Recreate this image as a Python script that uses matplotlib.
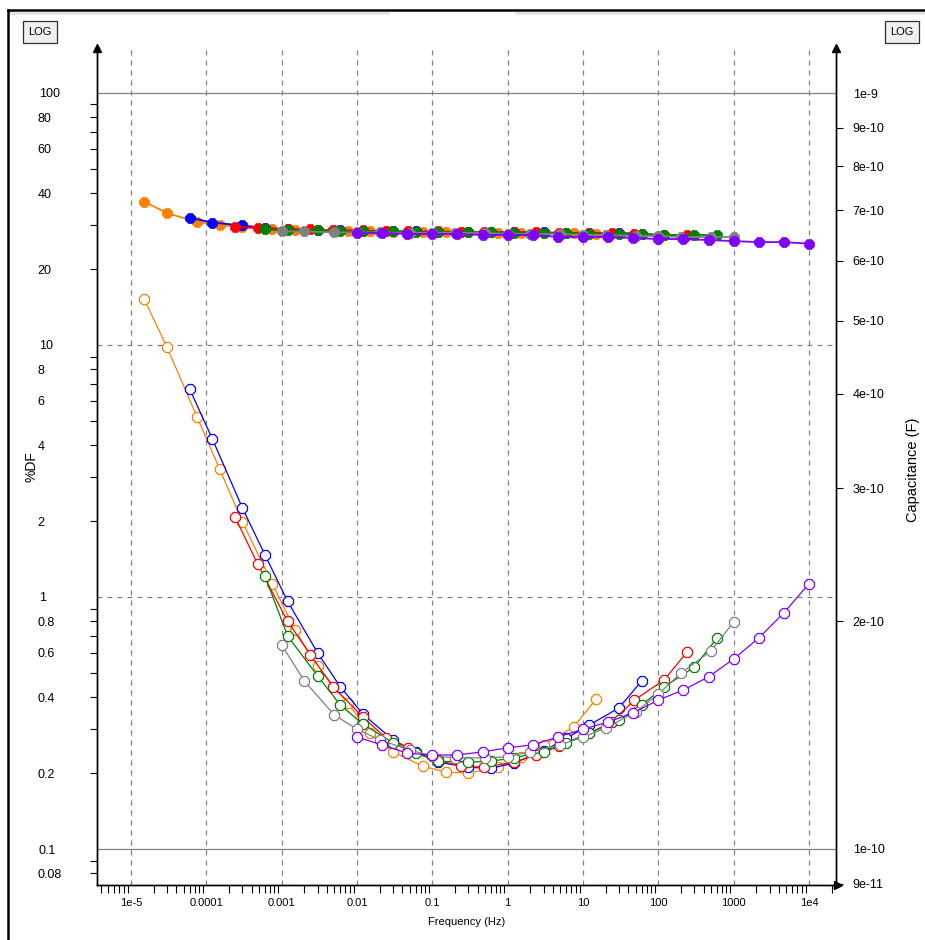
import matplotlib
matplotlib.use("Agg")
import matplotlib.pyplot as plt
from matplotlib.ticker import FixedLocator, FixedFormatter, NullFormatter
from matplotlib.patches import Rectangle
from matplotlib.lines import Line2D

plt.rcParams['font.family'] = ['Liberation Sans', 'DejaVu Sans']

# frequencies (Hz) per run
freq_orange = [1.5e-5, 3e-5, 7.5e-5, 1.5e-4, 3e-4, 7.5e-4, 1.5e-3, 3e-3, 7.5e-3, 0.015,
               0.03, 0.075, 0.15, 0.3, 0.75, 1.5, 3, 7.5, 15]
freq_blue = [6e-5, 1.2e-4, 3e-4, 6e-4, 1.2e-3, 3e-3, 6e-3, 0.012, 0.03, 0.06,
             0.12, 0.3, 0.6, 1.2, 3, 6, 12, 30, 60]
freq_red = [2.4e-4, 4.8e-4, 1.2e-3, 2.4e-3, 4.8e-3, 0.012, 0.024, 0.048, 0.12, 0.24,
            0.48, 1.2, 2.4, 4.8, 12, 24, 48, 120, 240]
freq_green = [6e-4, 1.2e-3, 3e-3, 6e-3, 0.012, 0.03, 0.06, 0.12, 0.3, 0.6,
              1.2, 3, 6, 12, 30, 60, 120, 300, 600]
freq_gray = [1e-3, 2e-3, 5e-3, 0.01, 0.02, 0.05, 0.1, 0.2, 0.5, 1,
             2, 5, 10, 20, 50, 100, 200, 500, 1000]
freq_purple = [0.01, 0.0215, 0.0464, 0.1, 0.215, 0.464, 1, 2.15, 4.64, 10,
               21.5, 46.4, 100, 215, 464, 1000, 2150, 4640, 10000]

# %DF
df_orange = [15.2, 9.8, 5.2, 3.22, 1.99, 1.13, 0.74, 0.53, 0.38, 0.288,
             0.243, 0.213, 0.202, 0.200, 0.211, 0.232, 0.259, 0.305, 0.394]
df_blue = [6.69, 4.24, 2.26, 1.47, 0.96, 0.60, 0.44, 0.343, 0.271, 0.243,
           0.221, 0.211, 0.209, 0.219, 0.245, 0.275, 0.310, 0.363, 0.464]
df_red = [2.08, 1.35, 0.80, 0.59, 0.44, 0.334, 0.276, 0.252, 0.225, 0.213,
          0.211, 0.221, 0.236, 0.256, 0.288, 0.319, 0.390, 0.469, 0.605]
df_green = [1.21, 0.70, 0.486, 0.373, 0.313, 0.264, 0.240, 0.223, 0.221, 0.223,
            0.230, 0.243, 0.264, 0.288, 0.325, 0.373, 0.44, 0.527, 0.687]
df_gray = [0.645, 0.464, 0.340, 0.299, 0.271, 0.247, 0.234, 0.230, 0.230, 0.232,
           0.243, 0.259, 0.278, 0.302, 0.350, 0.412, 0.499, 0.611, 0.796]
df_purple = [0.278, 0.259, 0.240, 0.236, 0.236, 0.243, 0.252, 0.259, 0.278, 0.299,
             0.319, 0.347, 0.390, 0.428, 0.482, 0.568, 0.687, 0.865, 1.13]

# capacitance in units of 1e-10 F
cap_orange = [7.18, 6.94, 6.75, 6.69, 6.65, 6.60, 6.58, 6.58, 6.56, 6.56,
              6.54, 6.54, 6.54, 6.54, 6.53, 6.53, 6.53, 6.53, 6.51]
cap_blue = [6.84, 6.74, 6.68, 6.63, 6.60, 6.58, 6.58, 6.56, 6.56, 6.56,
            6.54, 6.54, 6.54, 6.54, 6.54, 6.53, 6.53, 6.53, 6.51]
cap_red = [6.65, 6.63, 6.60, 6.60, 6.58, 6.58, 6.56, 6.56, 6.56, 6.54,
           6.54, 6.54, 6.54, 6.53, 6.53, 6.53, 6.51, 6.49, 6.49]
cap_green = [6.60, 6.58, 6.58, 6.56, 6.56, 6.56, 6.54, 6.54, 6.54, 6.54,
             6.53, 6.53, 6.53, 6.51, 6.51, 6.51, 6.49, 6.49, 6.49]
cap_gray = [6.56, 6.56, 6.54, 6.54, 6.54, 6.53, 6.53, 6.53, 6.53, 6.51,
            6.51, 6.51, 6.49, 6.49, 6.47, 6.47, 6.45, 6.45, 6.45]
cap_purple = [6.53, 6.53, 6.51, 6.51, 6.51, 6.49, 6.49, 6.49, 6.45, 6.45,
              6.45, 6.43, 6.41, 6.41, 6.39, 6.37, 6.35, 6.35, 6.32]
cap_unit = 1e-10

runs = [
    (freq_orange, df_orange, cap_orange, '#ff8000'),
    (freq_blue, df_blue, cap_blue, '#0000ff'),
    (freq_red, df_red, cap_red, '#ff0000'),
    (freq_green, df_green, cap_green, '#008000'),
    (freq_gray, df_gray, cap_gray, '#808080'),
    (freq_purple, df_purple, cap_purple, '#8000ff'),
]

x_major = [1e-5, 1e-4, 1e-3, 1e-2, 1e-1, 1, 10, 100, 1000, 1e4]
x_major_labels = ['1e-5', '0.0001', '0.001', '0.01', '0.1', '1', '10', '100', '1000', '1e4']
df_major = [0.1, 1, 10, 100]
df_major_labels = ['0.1', '1', '10', '100']
cap_major = [1e-10, 1e-9]
cap_major_labels = ['1e-10', '1e-9']
cap_minor = [9e-11, 2e-10, 3e-10, 4e-10, 5e-10, 6e-10, 7e-10, 8e-10, 9e-10]
cap_minor_labels = ['9e-11', '2e-10', '3e-10', '4e-10', '5e-10', '6e-10', '7e-10', '8e-10', '9e-10']

W, H = 925, 940
fig = plt.figure(figsize=(W / 100, H / 100), dpi=100)
ax = fig.add_axes([97 / W, 1 - 885 / H, (836 - 97) / W, (885 - 48) / H])
ax2 = ax.twinx()

ax.set_xscale('log')
ax.set_yscale('log')
ax2.set_yscale('log')
ax.set_xlim(3.535e-6, 2.28e4)
ax.set_ylim(0.07197, 150.8)
ax2.set_ylim(8.96e-11, 1.147e-9)

# grid
for xv in x_major:
    ax.axvline(xv, color='#808080', lw=0.9, ls=(0, (4, 4)), zorder=0)
for yv, style in zip(df_major, ['-', (0, (4, 4)), (0, (4, 4)), '-']):
    ax.axhline(yv, color='#808080', lw=0.9, ls=style, zorder=0)

for f, d, c, col in runs:
    ax.plot(f, d, color=col, lw=0.9, marker='8', ms=7.5, mfc='white', mec=col, mew=0.9)
    ax2.plot(f, [v * cap_unit for v in c], color=col, lw=1.3, marker='8', ms=8.5,
             mfc=col, mec=col, mew=0.5)

# x ticks
ax.xaxis.set_major_locator(FixedLocator(x_major))
ax.xaxis.set_major_formatter(FixedFormatter(x_major_labels))
x_minor = []
for dec in [1e-6, 1e-5, 1e-4, 1e-3, 1e-2, 1e-1, 1, 10, 100, 1000, 1e4]:
    for m in range(2, 10):
        v = m * dec
        if 3.6e-6 < v < 2.2e4:
            x_minor.append(v)
ax.xaxis.set_minor_locator(FixedLocator(x_minor))
ax.xaxis.set_minor_formatter(NullFormatter())
ax.tick_params(axis='x', which='major', length=0, pad=9, labelsize=8)
ax.tick_params(axis='x', which='minor', length=6, width=0.8, direction='out')

# left ticks
df_minor = []
df_minor_labels = []
for dec in [0.01, 0.1, 1, 10]:
    for m in range(2, 10):
        v = m * dec
        if 0.072 < v < 150:
            df_minor.append(v)
            df_minor_labels.append(('%g' % v) if m % 2 == 0 else '')
ax.yaxis.set_major_locator(FixedLocator(df_major))
ax.yaxis.set_major_formatter(FixedFormatter(df_major_labels))
ax.yaxis.set_minor_locator(FixedLocator(df_minor))
ax.yaxis.set_minor_formatter(FixedFormatter(df_minor_labels))
ax.tick_params(axis='y', which='major', length=0, pad=42, labelsize=9)
ax.tick_params(axis='y', which='minor', length=5, width=0.8, pad=38, labelsize=9)
for tl in ax.get_yticklabels(which='both'):
    tl.set_horizontalalignment('left')

# right ticks
ax2.yaxis.set_major_locator(FixedLocator(cap_major))
ax2.yaxis.set_major_formatter(FixedFormatter(cap_major_labels))
ax2.yaxis.set_minor_locator(FixedLocator(cap_minor))
ax2.yaxis.set_minor_formatter(FixedFormatter(cap_minor_labels))
ax2.tick_params(axis='y', which='major', length=0, pad=12, labelsize=9)
ax2.tick_params(axis='y', which='minor', length=5, width=0.8, pad=7, labelsize=9)

for a in (ax, ax2):
    a.spines['top'].set_visible(False)
    for s in ('left', 'right', 'bottom'):
        a.spines[s].set_linewidth(1.0)

# axis arrows
ax.plot([0], [1], marker='^', color='black', ms=6, transform=ax.transAxes, clip_on=False)
ax.plot([1], [1], marker='^', color='black', ms=6, transform=ax.transAxes, clip_on=False)
ax.plot([1.003], [0], marker='>', color='black', ms=6, transform=ax.transAxes, clip_on=False)

ax.set_xlabel('Frequency (Hz)', fontsize=8)
ax.xaxis.set_label_coords(0.5, -0.038)
fig.text(32 / W, 1 - 467 / H, '%DF', rotation=90, ha='center', va='center', fontsize=10)
fig.text(913 / W, 1 - 470 / H, 'Capacitance (F)', rotation=90, ha='center', va='center', fontsize=10.5)

# LOG buttons
for xc in (40, 902):
    fig.text(xc / W, 1 - 32 / H, 'LOG', ha='center', va='center', fontsize=8,
             bbox=dict(boxstyle='square,pad=0.5', fc='#f0f0f0', ec='#303030', lw=0.9))

# window frame
fig.add_artist(Rectangle((8 / W, 1 - 15 / H), 382 / W, 3 / H, transform=fig.transFigure,
                         fc='#e4e4e4', ec='none'))
fig.add_artist(Rectangle((515 / W, 1 - 15 / H), 410 / W, 3 / H, transform=fig.transFigure,
                         fc='#e4e4e4', ec='none'))
fig.add_artist(Line2D([8 / W, 1], [1 - 10 / H, 1 - 10 / H], transform=fig.transFigure,
                      color='black', lw=1.8))
fig.add_artist(Line2D([8 / W, 8 / W], [0, 1 - 10 / H], transform=fig.transFigure,
                      color='black', lw=1.8))

fig.savefig('out.png', dpi=100)
